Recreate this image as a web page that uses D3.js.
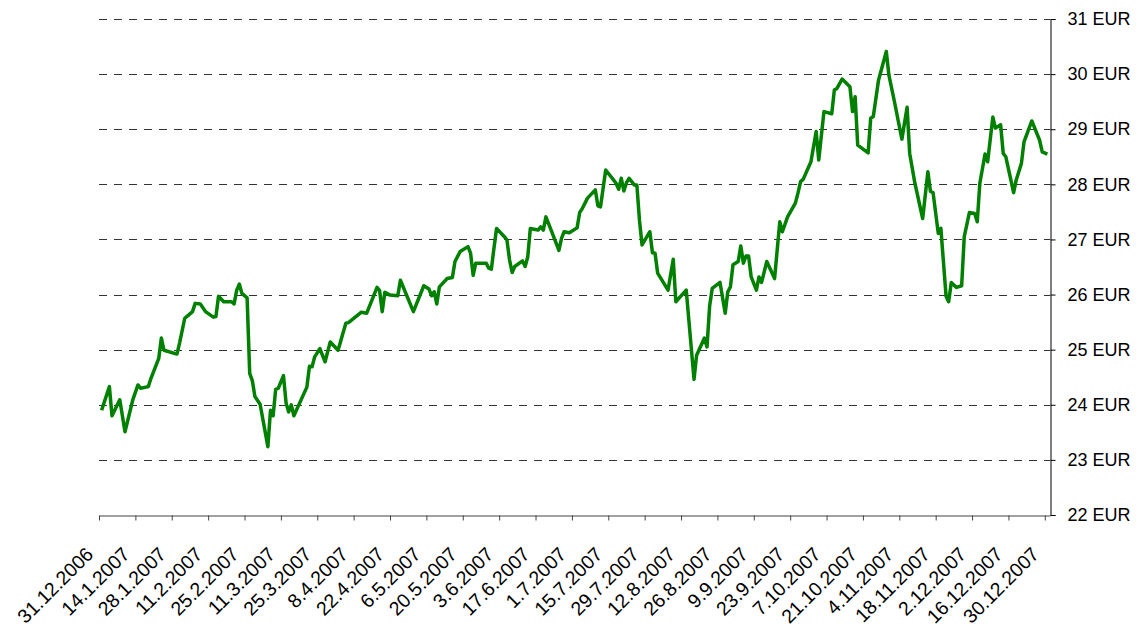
<!DOCTYPE html>
<html>
<head>
<meta charset="utf-8">
<script src="https://cdn.jsdelivr.net/npm/d3@7"></script>
<style>
  body { margin: 0; background: #fff; }
  #chart text { font-family: Arial, "Liberation Sans", sans-serif; fill: #000; }
</style>
</head>
<body>
<div id="chart"></div>
<script>
// trading dates and closing prices (EUR)
const dates = [
  "2007-01-01","2007-01-04","2007-01-05","2007-01-08","2007-01-10","2007-01-13","2007-01-15","2007-01-16",
  "2007-01-19","2007-01-20","2007-01-23","2007-01-24","2007-01-25","2007-01-30","2007-01-31","2007-02-02",
  "2007-02-03","2007-02-05","2007-02-06","2007-02-08","2007-02-10","2007-02-13","2007-02-14","2007-02-15",
  "2007-02-17","2007-02-20","2007-02-21","2007-02-22","2007-02-23","2007-02-24","2007-02-26","2007-02-27",
  "2007-02-28","2007-03-01","2007-03-03","2007-03-06","2007-03-07","2007-03-08","2007-03-09","2007-03-10",
  "2007-03-12","2007-03-13","2007-03-14","2007-03-15","2007-03-16","2007-03-21","2007-03-22","2007-03-23",
  "2007-03-24","2007-03-26","2007-03-28","2007-03-30","2007-04-02","2007-04-05","2007-04-06","2007-04-11",
  "2007-04-13","2007-04-17","2007-04-18","2007-04-19","2007-04-20","2007-04-22","2007-04-25","2007-04-26",
  "2007-05-01","2007-05-05","2007-05-07","2007-05-08","2007-05-09","2007-05-10","2007-05-11","2007-05-14",
  "2007-05-16","2007-05-17","2007-05-19","2007-05-22","2007-05-23","2007-05-24","2007-05-25","2007-05-29",
  "2007-05-30","2007-05-31","2007-06-01","2007-06-02","2007-06-05","2007-06-06","2007-06-07","2007-06-08",
  "2007-06-09","2007-06-12","2007-06-13","2007-06-14","2007-06-15","2007-06-18","2007-06-19","2007-06-20",
  "2007-06-21","2007-06-23","2007-06-26","2007-06-27","2007-06-28","2007-06-30","2007-07-03","2007-07-04",
  "2007-07-05","2007-07-07","2007-07-10","2007-07-11","2007-07-12","2007-07-14","2007-07-17","2007-07-18",
  "2007-07-19","2007-07-20","2007-07-21","2007-07-22","2007-07-23","2007-07-25","2007-07-26","2007-07-27",
  "2007-07-28","2007-07-31","2007-08-01","2007-08-02","2007-08-03","2007-08-07","2007-08-09","2007-08-10",
  "2007-08-14","2007-08-17","2007-08-18","2007-08-21","2007-08-22","2007-08-23","2007-08-24","2007-08-27",
  "2007-08-29","2007-08-30","2007-08-31","2007-09-01","2007-09-03","2007-09-04","2007-09-05","2007-09-06",
  "2007-09-07","2007-09-08","2007-09-10","2007-09-11","2007-09-12","2007-09-14","2007-09-17","2007-09-19",
  "2007-09-20","2007-09-22","2007-09-25","2007-09-26","2007-09-27","2007-09-28","2007-10-01","2007-10-03",
  "2007-10-04","2007-10-06","2007-10-09","2007-10-10","2007-10-11","2007-10-13","2007-10-16","2007-10-17",
  "2007-10-18","2007-10-19","2007-10-23","2007-10-24","2007-10-25","2007-10-27","2007-10-30","2007-10-31",
  "2007-11-02","2007-11-05","2007-11-07","2007-11-08","2007-11-09","2007-11-10","2007-11-13","2007-11-15",
  "2007-11-16","2007-11-17","2007-11-19","2007-11-20","2007-11-22","2007-11-23","2007-11-24","2007-11-26",
  "2007-11-28","2007-11-29","2007-12-01","2007-12-03","2007-12-04","2007-12-05","2007-12-07","2007-12-08",
  "2007-12-10","2007-12-11","2007-12-13","2007-12-14","2007-12-15","2007-12-18","2007-12-19","2007-12-21",
  "2007-12-22","2007-12-25","2007-12-28","2007-12-29","2007-12-31"
];
const prices = [
  23.90,24.33,23.80,24.09,23.51,24.09,24.36,24.30,
  24.33,24.48,24.84,25.21,24.99,24.92,25.12,25.57,
  25.61,25.69,25.84,25.83,25.69,25.59,25.60,25.97,
  25.87,25.87,25.83,26.08,26.19,26.02,25.94,24.57,
  24.44,24.15,24.01,23.24,23.90,23.80,24.28,24.30,
  24.53,24.03,23.87,24.00,23.80,24.32,24.70,24.69,
  24.87,25.02,24.78,25.14,24.99,25.48,25.49,25.68,
  25.66,26.13,26.07,25.69,26.04,25.99,25.98,26.26,
  25.69,26.16,26.10,25.98,26.05,25.83,26.14,26.29,
  26.31,26.60,26.78,26.87,26.75,26.35,26.57,26.57,
  26.48,26.46,26.84,27.20,27.05,26.99,26.63,26.40,
  26.51,26.61,26.51,26.68,27.20,27.17,27.23,27.17,
  27.41,27.17,26.80,27.02,27.14,27.12,27.21,27.49,
  27.56,27.75,27.90,27.61,27.59,28.26,28.08,28.02,
  27.91,28.11,27.88,28.03,28.11,27.99,27.99,27.35,
  26.90,27.14,26.76,26.75,26.39,26.08,26.64,25.87,
  26.08,24.46,24.90,25.21,25.05,25.79,26.11,26.22,
  25.66,26.05,26.14,26.54,26.60,26.88,26.57,26.70,
  26.70,26.32,26.08,26.32,26.22,26.60,26.29,27.32,
  27.14,27.41,27.66,27.84,28.05,28.09,28.41,28.96,
  28.44,29.32,29.28,29.71,29.74,29.91,29.77,29.32,
  29.59,28.71,28.57,29.20,29.23,29.89,30.41,29.98,
  29.53,28.82,29.40,28.56,28.29,28.02,27.38,28.23,
  27.87,27.85,27.11,27.20,25.97,25.87,26.22,26.13,
  26.16,27.05,27.49,27.47,27.32,28.02,28.55,28.41,
  29.22,29.02,29.08,28.56,28.50,27.85,28.08,28.38,
  28.77,29.15,28.80,28.59,28.55
];
// x axis tick dates (every two weeks)
const tickDates = [
  "2006-12-31","2007-01-14","2007-01-28","2007-02-11","2007-02-25","2007-03-11","2007-03-25",
  "2007-04-08","2007-04-22","2007-05-06","2007-05-20","2007-06-03","2007-06-17","2007-07-01",
  "2007-07-15","2007-07-29","2007-08-12","2007-08-26","2007-09-09","2007-09-23","2007-10-07",
  "2007-10-21","2007-11-04","2007-11-18","2007-12-02","2007-12-16","2007-12-30"
];
const yTicks = [22, 23, 24, 25, 26, 27, 28, 29, 30, 31];

//Width and Height
let width = 1142;
let height = 629;
let plotLeft = 99, plotRight = 1050, plotTop = 19, plotBottom = 515;

let parse = d3.timeParse("%Y-%m-%d");
let data = dates.map((d, i) => ({ date: parse(d), value: prices[i] }));

let x = d3.scaleTime()
  .domain([parse("2006-12-31"), parse("2008-01-01")])
  .range([plotLeft, plotRight]);

let y = d3.scaleLinear()
  .domain([22, 31])
  .range([plotBottom, plotTop]);

let svg = d3.select("#chart")
  .append("svg")
  .attr("width", width)
  .attr("height", height);

//Dashed gridlines
svg.append("g")
  .attr("class", "grid")
  .selectAll("line")
  .data(yTicks.filter(d => d > 22))
  .enter()
  .append("line")
  .attr("x1", plotLeft)
  .attr("x2", plotRight)
  .attr("y1", d => Math.round(y(d)) + 0.5)
  .attr("y2", d => Math.round(y(d)) + 0.5)
  .attr("stroke", "#333")
  .attr("stroke-width", 1)
  .attr("stroke-dasharray", "8,7");

//Right axis
let yAxis = svg.append("g")
  .attr("transform", "translate(" + (plotRight + 0.5) + ",0)")
  .call(d3.axisRight(y).tickValues(yTicks).tickSize(5).tickPadding(12).tickFormat(d => d + " EUR"));
yAxis.select(".domain").attr("stroke", "#000");
yAxis.selectAll("text").style("font-size", "18px");

//Bottom axis
let xAxis = svg.append("g")
  .attr("transform", "translate(0," + (plotBottom + 0.5) + ")")
  .call(d3.axisBottom(x).tickValues(tickDates.map(parse)).tickSize(5).tickSizeOuter(0).tickFormat(d3.timeFormat("%-d.%-m.%Y")));
xAxis.select(".domain").attr("stroke", "#444");
xAxis.selectAll(".tick line").attr("stroke", "#444");
xAxis.selectAll("text")
  .style("font-size", "19.5px")
  .attr("text-anchor", "end")
  .attr("x", 0)
  .attr("y", 0)
  .attr("dy", 0)
  .attr("transform", "translate(-5,40) rotate(-45)");

//Price line
let line = d3.line()
  .x(d => x(d.date))
  .y(d => y(d.value));

svg.append("path")
  .datum(data)
  .attr("d", line)
  .attr("fill", "none")
  .attr("stroke", "#008000")
  .attr("stroke-width", 3.5)
  .attr("stroke-linejoin", "round");
</script>
</body>
</html>
